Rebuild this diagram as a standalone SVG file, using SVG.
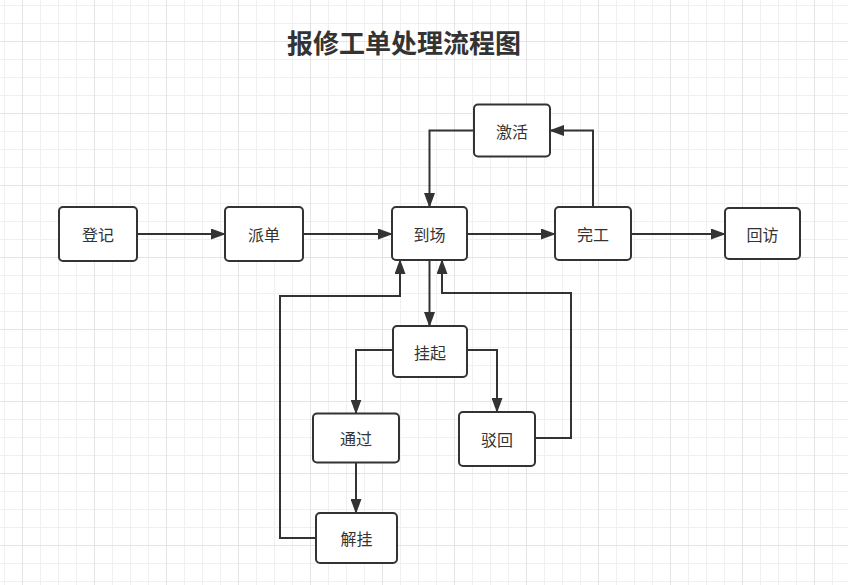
<svg xmlns="http://www.w3.org/2000/svg" width="848" height="585" viewBox="0 0 848 585">
<style>
.node rect{fill:#fff;stroke:#333;stroke-width:2}
.node text{font-family:"Noto Sans CJK SC","Microsoft YaHei",sans-serif;font-size:16px;fill:#333;text-anchor:middle;dominant-baseline:central}
.edges path{fill:none;stroke:#333;stroke-width:2;marker-end:url(#arr)}
.title{font-family:"Noto Sans CJK SC",sans-serif;font-size:26px;font-weight:bold;fill:#333;text-anchor:middle;dominant-baseline:central}
</style>
<defs>
<pattern id="grid" patternUnits="userSpaceOnUse" x="22" y="41" width="72" height="72">
<path d="M18.5 0V72M36.5 0V72M54.5 0V72M0 18.5H72M0 36.5H72M0 54.5H72" stroke="#f0f0f0" stroke-width="1" fill="none"/>
<path d="M0.5 0V72M0 0.5H72" stroke="#e4e4e4" stroke-width="1" fill="none"/>
</pattern>
<marker id="arr" markerUnits="userSpaceOnUse" markerWidth="15" markerHeight="11" refX="14" refY="5.5" orient="auto">
<path d="M0,0 L15,5.5 L0,11 z" fill="#333"/>
</marker>
</defs>
<rect width="848" height="585" fill="#fff"/>
<rect width="848" height="585" fill="url(#grid)"/>
<text class="title" x="404" y="41.5">报修工单处理流程图</text>
<g class="edges">
<path d="M137 234H225"/>
<path d="M303 234H392"/>
<path d="M467 234H555"/>
<path d="M631 234H725"/>
<path d="M593 207V130.5H550"/>
<path d="M474 130.5H429.5V207"/>
<path d="M429.5 260V326"/>
<path d="M393 350H356V413.5"/>
<path d="M467 350H497V412"/>
<path d="M535 438H571V293H442V260"/>
<path d="M356 463V513"/>
<path d="M316 538H280V296H400V260"/>
</g>
<g id="n-dengji" class="node"><rect x="59" y="207" width="78" height="54" rx="4"/><text x="98" y="234">登记</text></g>
<g id="n-paidan" class="node"><rect x="225" y="207" width="78" height="54" rx="4"/><text x="264" y="234">派单</text></g>
<g id="n-daochang" class="node"><rect x="392" y="207" width="75" height="53" rx="4"/><text x="429.5" y="234">到场</text></g>
<g id="n-jihuo" class="node"><rect x="474" y="104.5" width="76" height="52" rx="4"/><text x="512" y="130.5">激活</text></g>
<g id="n-wangong" class="node"><rect x="555" y="207" width="76" height="53" rx="4"/><text x="593" y="234">完工</text></g>
<g id="n-huifang" class="node"><rect x="725" y="208" width="75" height="51" rx="4"/><text x="762.5" y="234">回访</text></g>
<g id="n-guaqi" class="node"><rect x="393" y="326" width="74" height="51" rx="4"/><text x="430" y="351.5">挂起</text></g>
<g id="n-tongguo" class="node"><rect x="313" y="413.5" width="86" height="49" rx="4"/><text x="356" y="438">通过</text></g>
<g id="n-bohui" class="node"><rect x="459" y="412" width="76" height="54" rx="4"/><text x="497" y="439">驳回</text></g>
<g id="n-jiegua" class="node"><rect x="316" y="513" width="81" height="50" rx="4"/><text x="356.5" y="538">解挂</text></g>
</svg>
